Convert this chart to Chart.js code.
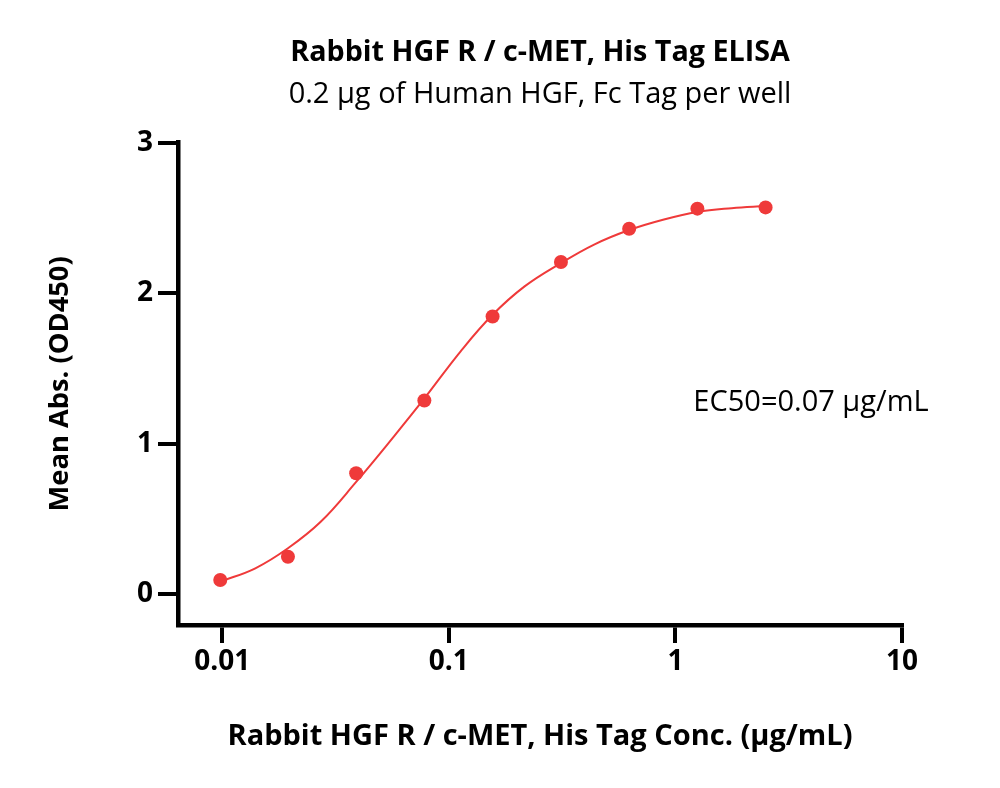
<!DOCTYPE html>
<html>
<head>
<meta charset="utf-8">
<script src="https://cdn.jsdelivr.net/npm/chart.js@4/dist/chart.umd.min.js"></script>
<style>
  html, body { margin: 0; padding: 0; background: #fff; }
  #wrap { width: 1000px; height: 788px; position: relative; }
</style>
</head>
<body>
<div id="wrap"><canvas id="c"></canvas></div>
<script>
// Measured data points (concentration in µg/mL, mean absorbance OD450)
const concentrations = [0.0098, 0.0195, 0.039, 0.078, 0.156, 0.3125, 0.625, 1.25, 2.5];
const meanAbs = [0.093, 0.248, 0.803, 1.286, 1.845, 2.207, 2.428, 2.562, 2.570];

// Fitted curve at sample concentrations
const fitConc = [0.0098, 0.014, 0.0195, 0.0272, 0.039, 0.0574, 0.078, 0.113, 0.156, 0.216, 0.3125, 0.44, 0.625, 0.89, 1.25, 1.77, 2.5];
const fitAbs  = [0.082, 0.171, 0.304, 0.480, 0.745, 1.050, 1.300, 1.615, 1.856, 2.045, 2.200, 2.325, 2.420, 2.490, 2.540, 2.565, 2.580];

// Tick labels
const xTickValues = [0.01, 0.1, 1, 10];
const xTickLabels = ['0.01', '0.1', '1', '10'];
const yTickValues = [0, 1, 2, 3];
const yTickLabels = ['0', '1', '2', '3'];

const titleText = 'Rabbit HGF R / c-MET, His Tag ELISA';
const subtitleText = '0.2 μg of Human HGF, Fc Tag per well';
const xTitle = 'Rabbit HGF R / c-MET, His Tag Conc. (μg/mL)';
const yTitle = 'Mean Abs. (OD450)';
const ec50Text = 'EC50=0.07 μg/mL';

const RED = '#EF3A3A';
const FONT = '"Open Sans", Lato, sans-serif';

const ec50Plugin = {
  id: 'ec50',
  afterDatasetsDraw(chart) {
    const ctx = chart.ctx;
    const x = chart.scales.x.getPixelForValue(1.2);
    const y = chart.scales.y.getPixelForValue(1.27);
    ctx.save();
    ctx.font = '29px ' + FONT;
    ctx.fillStyle = '#000';
    ctx.textBaseline = 'middle';
    ctx.textAlign = 'left';
    ctx.fillText(ec50Text, x, y);
    ctx.restore();
  }
};

new Chart(document.getElementById('c'), {
  type: 'scatter',
  data: {
    datasets: [
      {
        type: 'line',
        label: 'fit',
        data: fitConc.map((v, i) => ({ x: v, y: fitAbs[i] })),
        borderColor: RED,
        borderWidth: 2,
        pointRadius: 0,
        tension: 0.4,
        fill: false,
        order: 2
      },
      {
        label: 'data',
        data: concentrations.map((v, i) => ({ x: v, y: meanAbs[i] })),
        backgroundColor: RED,
        borderColor: RED,
        pointRadius: 7,
        pointBorderWidth: 0,
        showLine: false,
        order: 1
      }
    ]
  },
  options: {
    responsive: true,
    maintainAspectRatio: false,
    animation: false,
    layout: { padding: { left: 0, right: 98, top: 0, bottom: 0 } },
    plugins: {
      legend: { display: false },
      tooltip: { enabled: false },
      title: {
        display: true,
        fullSize: false,
        text: titleText,
        color: '#000',
        font: { family: FONT, size: 28.7, weight: 'bold', lineHeight: 1.2 },
        padding: { top: 36, bottom: 0 }
      },
      subtitle: {
        display: true,
        fullSize: false,
        text: subtitleText,
        color: '#000',
        font: { family: FONT, size: 29, weight: 'normal', lineHeight: 1.2 },
        padding: { top: 7, bottom: 30.5 }
      }
    },
    scales: {
      x: {
        type: 'logarithmic',
        min: 0.00638,
        max: 10,
        afterBuildTicks: (s) => { s.ticks = xTickValues.map(v => ({ value: v })); },
        afterFit: (s) => { s.height = 163; },
        ticks: {
          color: '#000',
          font: { family: FONT, size: 28, weight: 'bold' },
          padding: 2,
          autoSkip: false,
          maxRotation: 0,
          callback: (v) => { const i = xTickValues.indexOf(v); return i >= 0 ? xTickLabels[i] : ''; }
        },
        grid: { display: true, drawOnChartArea: false, drawTicks: true, tickLength: 18, lineWidth: 4, color: '#000' },
        border: { display: true, color: '#000', width: 4.5 },
        title: {
          display: true,
          text: xTitle,
          color: '#000',
          font: { family: FONT, size: 29, weight: 'bold', lineHeight: 1.2 },
          padding: { top: 0, bottom: 33.5 }
        }
      },
      y: {
        type: 'linear',
        min: -0.206,
        max: 3,
        afterBuildTicks: (s) => { s.ticks = yTickValues.map(v => ({ value: v })); },
        afterFit: (s) => { s.width = 178; },
        ticks: {
          color: '#000',
          font: { family: FONT, size: 28, weight: 'bold' },
          padding: 5,
          callback: (v) => { const i = yTickValues.indexOf(v); return i >= 0 ? yTickLabels[i] : ''; }
        },
        grid: { display: true, drawOnChartArea: false, drawTicks: true, tickLength: 20, lineWidth: 4, color: '#000' },
        border: { display: true, color: '#000', width: 4.5 },
        title: {
          display: true,
          text: yTitle,
          color: '#000',
          font: { family: FONT, size: 27.3, weight: 'bold', lineHeight: 1.2 },
          padding: { top: 43.5, bottom: 0 }
        }
      }
    }
  },
  plugins: [ec50Plugin]
});
</script>
</body>
</html>
